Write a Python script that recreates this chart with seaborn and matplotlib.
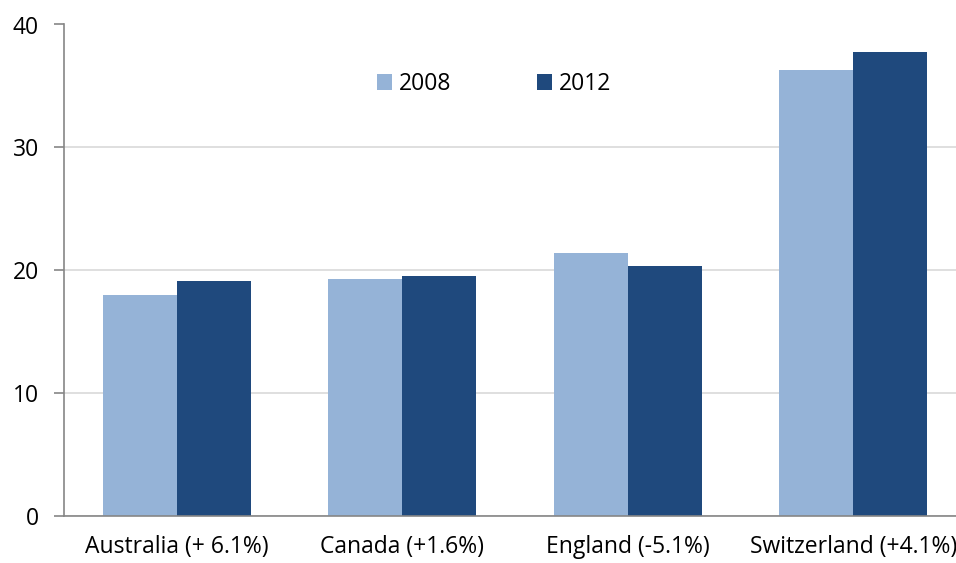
import numpy as np
import pandas as pd
import matplotlib
matplotlib.use("Agg")
import matplotlib.pyplot as plt
import seaborn as sns
from matplotlib.patches import Patch

# data
countries = ["Australia (+ 6.1%)", "Canada (+1.6%)", "England (-5.1%)", "Switzerland (+4.1%)"]
years = ["2008", "2012"]
vals_2008 = [18.0, 19.25, 21.4, 36.3]
vals_2012 = [19.1, 19.5, 20.35, 37.8]
colors = {"2008": "#95B3D7", "2012": "#1F497D"}

df = pd.DataFrame({
    "country": countries * 2,
    "year": ["2008"] * 4 + ["2012"] * 4,
    "value": vals_2008 + vals_2012,
})

sns.set_style("white")
plt.rcParams["font.family"] = ["Open Sans", "DejaVu Sans"]
plt.rcParams["text.color"] = "black"
FS = 16.5

fig = plt.figure(figsize=(9.56, 5.63), dpi=100)
ax = fig.add_axes([64 / 956, 1 - 516 / 563, 1 - 64 / 956, (516 - 24.5) / 563])

sns.barplot(data=df, x="country", y="value", hue="year", order=countries,
            hue_order=years, palette=colors, width=0.655, gap=0,
            saturation=1, legend=False, ax=ax)
for p in ax.patches:
    p.set_linewidth(0)

ax.set_xlim(-0.5, -0.5 + 892 / 225.5)
ax.set_ylim(0, 40)
ax.set_yticks([0, 10, 20, 30, 40])
ax.yaxis.grid(True, color="#D9D9D9", linewidth=1.2)
ax.set_axisbelow(True)
ax.set_xlabel("")
ax.set_ylabel("")

for s in ["top", "right"]:
    ax.spines[s].set_visible(False)
for s in ["left", "bottom"]:
    ax.spines[s].set_color("#868686")
    ax.spines[s].set_linewidth(1.2)

ax.set_xticks(np.arange(len(countries)))
ax.set_xticklabels(countries)
ax.set_xticks(np.arange(len(countries)) - 0.5, minor=True)
ax.tick_params(axis="x", which="major", length=0, pad=14, labelsize=FS, labelcolor="black")
ax.tick_params(axis="x", which="minor", length=7, width=1.2, color="#868686")
ax.tick_params(axis="y", length=7, width=1.2, color="#868686", pad=11, labelsize=FS,
               labelcolor="black", left=True)

handles = [Patch(facecolor=colors[y], edgecolor="none", label=y) for y in years]
fig.legend(handles=handles, loc="center left", bbox_to_anchor=(377 / 956, 1 - 84 / 563),
           ncol=2, frameon=False, fontsize=FS, handlelength=0.65, handleheight=0.65,
           handletextpad=0.3, columnspacing=3.75, borderpad=0, borderaxespad=0,
           labelcolor="black")

fig.savefig("out.png", dpi=100)
